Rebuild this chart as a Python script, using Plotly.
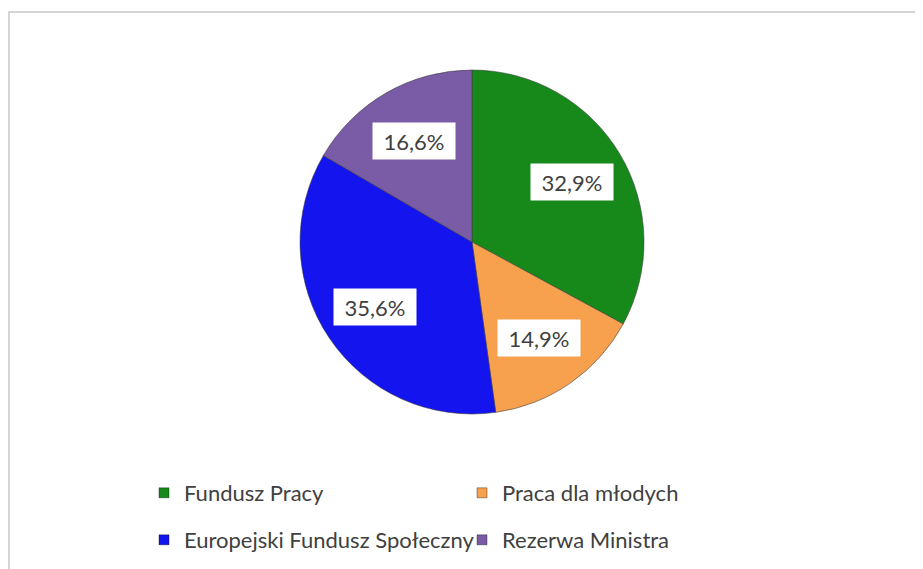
import math
import plotly.graph_objects as go

# Dane
labels = ["Fundusz Pracy", "Praca dla młodych", "Europejski Fundusz Społeczny", "Rezerwa Ministra"]
values = [32.9, 14.9, 35.6, 16.6]
colors = ["#17891B", "#F7A04E", "#1414EE", "#7A5BA6"]

W, H = 923, 569
# pozycje w px figury (strona ma 8px marginesu body)
CX, CY, R = 464, 234, 172
FONT = "Lato, 'Open Sans', sans-serif"
TEXT_COLOR = "#404040"

fig = go.Figure()
fig.add_trace(go.Pie(
    labels=labels,
    values=values,
    sort=False,
    direction="clockwise",
    rotation=0,
    marker=dict(colors=colors, line=dict(color="rgba(60,60,60,0.55)", width=1)),
    textinfo="none",
    hoverinfo="label+percent",
    showlegend=False,
    domain=dict(x=[(CX - R) / W, (CX + R) / W], y=[1 - (CY + R) / H, 1 - (CY - R) / H]),
))

# Legenda: dwa wiersze po dwa elementy (puste ślady tylko dla legendy)
for i, (lab, col) in enumerate(zip(labels, colors)):
    fig.add_trace(go.Scatter(
        x=[None], y=[None], mode="markers", name=lab,
        marker=dict(symbol="square", size=10, color=col,
                    line=dict(color="rgba(0,0,0,0.35)", width=1)),
        legend="legend" if i < 2 else "legend2",
        hoverinfo="skip",
    ))

# Etykiety procentowe w białych ramkach, w połowie kąta każdego wycinka
total = sum(values)
cum = 0
for v in values:
    mid = (cum + v / 2) / total * 2 * math.pi
    cum += v
    rr = 0.68 * R
    px = CX + rr * math.sin(mid)
    py = CY - rr * math.cos(mid)
    fig.add_annotation(
        x=px / W, y=1 - py / H, xref="paper", yref="paper",
        xanchor="center", yanchor="middle",
        text=f"{v:.1f}%".replace(".", ","),
        showarrow=False,
        font=dict(family=FONT, size=22, color=TEXT_COLOR),
        bgcolor="white",
        width=78, height=32,
        borderpad=2,
    )

# Ramka wykresu
fig.add_shape(type="rect", xref="paper", yref="paper",
              x0=1 / W, x1=1.05, y0=-0.05, y1=1 - 4 / H,
              line=dict(color="#c8c8c8", width=1.5), fillcolor="rgba(0,0,0,0)", layer="below")

legend_style = dict(
    orientation="h",
    xanchor="left",
    yanchor="top",
    entrywidth=273,
    entrywidthmode="pixels",
    font=dict(family=FONT, size=22, color=TEXT_COLOR),
    bgcolor="rgba(0,0,0,0)",
    itemwidth=30,
)

fig.update_layout(
    width=W, height=H,
    margin=dict(l=0, r=0, t=0, b=0),
    paper_bgcolor="white",
    plot_bgcolor="white",
    font=dict(family=FONT, color=TEXT_COLOR),
    showlegend=True,
    xaxis=dict(visible=False),
    yaxis=dict(visible=False),
    legend=dict(x=136 / W, y=1 - 464 / H, **legend_style),
    legend2=dict(x=136 / W, y=1 - 511 / H, **legend_style),
)

fig.write_html("out.html")
